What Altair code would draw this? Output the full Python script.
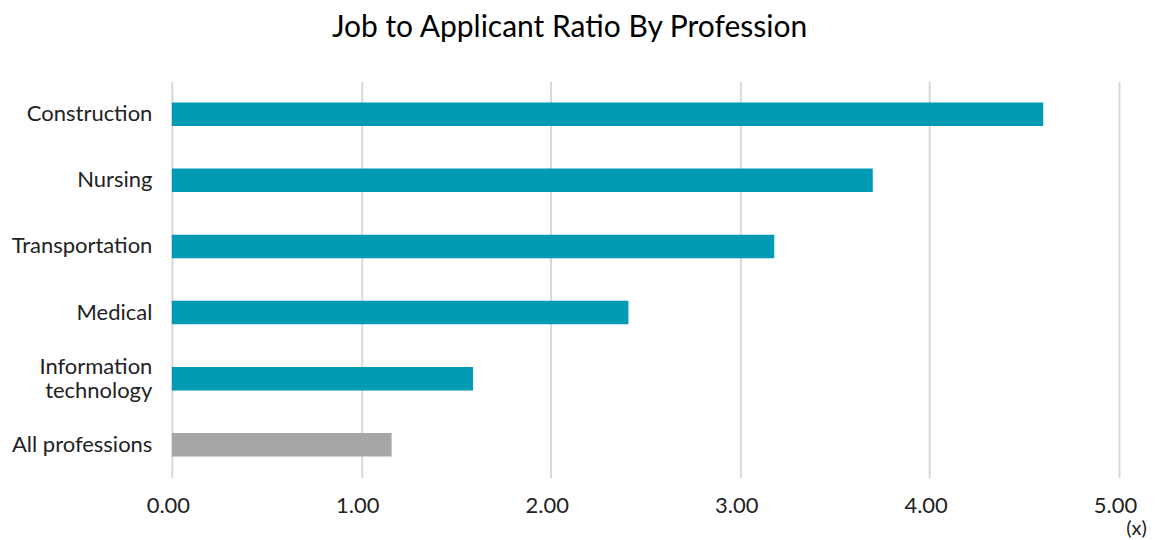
import altair as alt
import pandas as pd

professions = ["Construction", "Nursing", "Transportation", "Medical",
               "Information technology", "All professions"]
ratios = [4.60, 3.70, 3.18, 2.41, 1.59, 1.16]
groups = ["Profession", "Profession", "Profession", "Profession", "Profession", "All"]

df = pd.DataFrame({"profession": professions, "ratio": ratios, "group": groups})

FONT = "Lato"

chart = alt.Chart(df).mark_bar().encode(
    y=alt.Y("profession:N", sort=professions,
            scale=alt.Scale(paddingInner=0.645, paddingOuter=0.3225),
            axis=alt.Axis(title=None, domain=False, ticks=False, grid=False,
                          labelFontSize=22, labelColor="#222222", labelFont=FONT,
                          labelPadding=20, labelLineHeight=24,
                          labelOffset={"condition": {"test": "datum.value == 'Information technology'", "value": -12}, "value": 0},
                          labelExpr="datum.value == 'Information technology' ? ['Information', 'technology'] : datum.value")),
    x=alt.X("ratio:Q", scale=alt.Scale(domain=[0, 5], nice=False),
            axis=alt.Axis(title="(x)", values=[0, 1, 2, 3, 4, 5], format=".2f",
                          domain=False, ticks=False, grid=True,
                          gridColor="#D9D9D9", gridWidth=2,
                          labelFontSize=22, labelColor="#222222", labelFont=FONT,
                          labelPadding=18, labelFlush=False, labelOffset=-4,
                          titleFontSize=20, titleFont=FONT, titleColor="#222222",
                          titleFontWeight="normal",
                          titleX=965, titleY=51, titleAlign="center",
                          titleBaseline="middle")),
    color=alt.Color("group:N", scale=alt.Scale(domain=["Profession", "All"],
                                               range=["#009AB4", "#A6A6A6"]),
                    legend=None),
).properties(
    width=948,
    height=397,
    title=alt.TitleParams("Job to Applicant Ratio By Profession", fontSize=30,
                          font=FONT, fontWeight="normal", color="#000000",
                          anchor="middle", dx=-76, offset=38),
    autosize=alt.AutoSizeParams(type="none"),
    padding={"left": 164, "top": 73, "right": 30, "bottom": 60},
).configure_view(stroke=None)

chart.save("out.html", embed_options={"renderer": "svg", "actions": False})
